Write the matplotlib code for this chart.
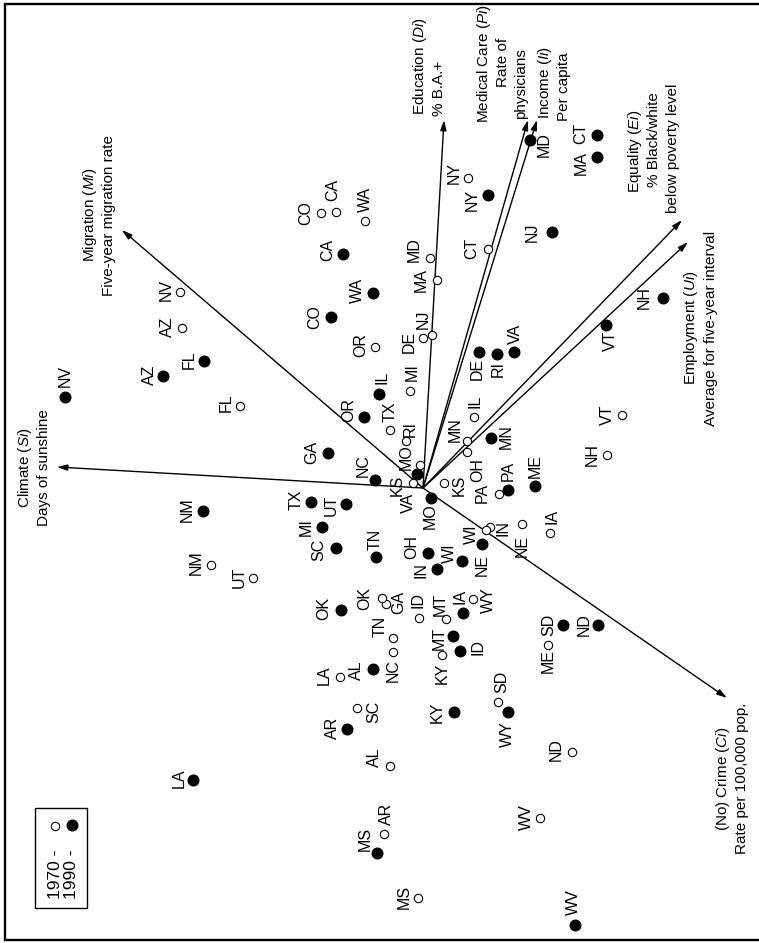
import matplotlib.pyplot as plt
from matplotlib.patches import Rectangle

plt.rcParams['font.family'] = ['Liberation Sans', 'DejaVu Sans']
plt.rcParams['mathtext.fontset'] = 'custom'
plt.rcParams['mathtext.rm'] = 'Liberation Sans'
plt.rcParams['mathtext.it'] = 'Liberation Sans:italic'

# state scores (page units, page is printed sideways)
states_70 = ['CO', 'CA', 'WA', 'NV', 'AZ', 'FL', 'OR', 'MD', 'MA', 'NJ', 'DE', 'NY',
             'CT', 'MI', 'TX', 'RI', 'MO', 'IL', 'MN', 'OH', 'KS', 'VA', 'PA', 'IA',
             'NE', 'IN', 'WI', 'VT', 'NH', 'WY', 'MT', 'ID', 'GA', 'OK', 'TN', 'NC',
             'KY', 'LA', 'SC', 'AL', 'AR', 'MS', 'SD', 'ME', 'ND', 'WV', 'NM', 'UT']
x_70 = [321, 336, 365, 180, 182, 240, 375, 430, 437, 432, 423, 468,
        488, 410, 390, 406, 420, 474, 467, 467, 444, 413, 499, 550,
        522, 490, 486, 622, 607, 473, 446, 419, 386, 382, 393, 393,
        442, 340, 357, 390, 384, 418, 498, 548, 572, 540, 211, 253]
y_70 = [213, 212, 221, 292, 328, 406, 347, 258, 280, 335, 338, 178,
        249, 391, 430, 441, 465, 417, 441, 452, 483, 483, 494, 533,
        524, 527, 530, 415, 455, 599, 619, 618, 604, 598, 638, 652,
        655, 677, 708, 766, 834, 898, 702, 645, 752, 818, 565, 578]

states_90 = ['NV', 'AZ', 'FL', 'CA', 'WA', 'CO', 'OR', 'IL', 'GA', 'NC', 'TX', 'UT',
             'MI', 'SC', 'TN', 'NM', 'OK', 'AL', 'AR', 'LA', 'MS', 'KY', 'MT', 'ID',
             'IA', 'IN', 'OH', 'WI', 'NE', 'MO', 'KS', 'WY', 'SD', 'ND', 'WV', 'ME',
             'PA', 'MN', 'DE', 'RI', 'VA', 'VT', 'NH', 'NJ', 'NY', 'MD', 'MA', 'CT']
x_90 = [65, 163, 204, 343, 373, 331, 364, 379, 328, 375, 311, 346,
        322, 336, 376, 203, 341, 373, 347, 193, 377, 454, 453, 460,
        463, 437, 428, 462, 482, 431, 417, 508, 563, 598, 575, 535,
        508, 491, 479, 497, 514, 606, 663, 552, 488, 530, 597, 597]
y_90 = [397, 376, 361, 254, 293, 317, 417, 394, 453, 480, 502, 504,
        527, 548, 557, 511, 610, 669, 729, 780, 853, 712, 636, 651,
        613, 569, 553, 561, 544, 498, 474, 712, 625, 625, 925, 486,
        490, 438, 352, 354, 352, 325, 298, 232, 195, 140, 157, 135]

# variable vectors
origin = (423, 488)
var_tip_x = [57, 122, 444, 528, 537, 682, 688, 727]
var_tip_y = [467, 230, 120, 120, 120, 220, 242, 698]

# where each state name sits relative to its point
off_70 = {'CO': (-15, 0), 'CA': (-3, -22), 'WA': (0, -22), 'NV': (-14, -2), 'AZ': (-15, -1),
          'FL': (-14, -3), 'OR': (-14, -2), 'MD': (-16, -8), 'MA': (-16, 0), 'NJ': (-9, -16),
          'DE': (-14, 4), 'NY': (-14, -5), 'CT': (-16, -1), 'MI': (2, -19), 'TX': (0, -18),
          'RI': (4, -12), 'MO': (-14, -8), 'IL': (1, -16), 'MN': (-12, -11), 'OH': (11, 18),
          'KS': (15, 2), 'VA': (-5, 20), 'PA': (-17, -1), 'IA': (2, -17), 'NE': (0, 22),
          'IN': (13, 1), 'WI': (-15, 4), 'VT': (-15, 0), 'NH': (-15, 0), 'WY': (15, 1),
          'MT': (-6, -15), 'ID': (-1, -18), 'GA': (13, -2), 'OK': (-17, 0), 'TN': (-13, -12),
          'NC': (0, 19), 'KY': (0, 18), 'LA': (-16, -2), 'SC': (17, 4), 'AL': (-16, -9),
          'AR': (2, -20), 'MS': (-14, -1), 'SD': (4, -20), 'ME': (0, 16), 'ND': (-16, -2),
          'WV': (-14, -1), 'NM': (-15, -2), 'UT': (-14, -1)}
off_90 = {'NV': (0, -21), 'AZ': (-14, -1), 'FL': (-15, -1), 'CA': (-15, -4), 'WA': (-16, -3),
          'CO': (-16, 0), 'OR': (-15, -7), 'IL': (3, -17), 'GA': (-16, -1), 'NC': (-12, -14),
          'TX': (-15, -2), 'UT': (-15, 1), 'MI': (-16, 0), 'SC': (-17, 2), 'TN': (-1, -18),
          'NM': (-16, -1), 'OK': (-17, -2), 'AL': (-17, 1), 'AR': (-15, -1), 'LA': (-14, -2),
          'MS': (-12, -14), 'KY': (-17, 0), 'MT': (-14, 2), 'ID': (18, -4), 'IA': (-3, -17),
          'IN': (-16, 1), 'OH': (-16, -6), 'WI': (-13, -8), 'NE': (0, 21), 'MO': (-1, 18),
          'KS': (-20, 11), 'WY': (-1, 22), 'SD': (-14, 0), 'ND': (-14, 0), 'WV': (-2, -23),
          'ME': (0, -20), 'PA': (0, -19), 'MN': (15, -1), 'DE': (-2, 17), 'RI': (1, 15),
          'VA': (1, -18), 'VT': (4, 16), 'NH': (-19, 0), 'NJ': (-20, 0), 'NY': (-16, 5),
          'MD': (14, 5), 'MA': (-16, 6), 'CT': (-16, -2)}

fig = plt.figure(figsize=(7.59, 9.43), dpi=100)
ax = fig.add_axes([0, 0, 1, 1])
ax.set_xlim(0, 759)
ax.set_ylim(943, 0)
ax.axis('off')

# frame (left, top, bottom; the right side is cut off in the scan)
ax.plot([758, 5, 5, 758], [4, 4, 940, 940], color='black', lw=1.7, zorder=1,
        solid_joinstyle='miter')

# vectors
for tx, ty in zip(var_tip_x, var_tip_y):
    ax.annotate('', xy=(tx, ty), xytext=origin,
                arrowprops=dict(arrowstyle='-|>,head_length=0.6,head_width=0.18',
                                lw=1.0, color='black', mutation_scale=10,
                                shrinkA=0, shrinkB=0), zorder=2)

# points
ax.scatter(x_90, y_90, s=58, c='black', zorder=3)
ax.scatter(x_70, y_70, s=36, facecolors='white', edgecolors='black', linewidths=0.8, zorder=4)

fs = 11.5
for st, x, y in zip(states_70, x_70, y_70):
    dx, dy = off_70[st]
    ax.text(x + dx, y + dy, st, rotation=90, ha='center', va='center', fontsize=fs, zorder=5)
for st, x, y in zip(states_90, x_90, y_90):
    dx, dy = off_90[st]
    ax.text(x + dx, y + dy, st, rotation=90, ha='center', va='center', fontsize=fs, zorder=5)

# vector labels
lab = dict(rotation=90, ha='center', va='center', fontsize=11)
ax.text(25, 468, 'Climate ($\\mathit{Si}$)', **lab)
ax.text(44, 468, 'Days of sunshine', **lab)
ax.text(90, 215, 'Migration ($\\mathit{Mi}$)', **lab)
ax.text(109, 215, 'Five-year migration rate', **lab)
ax.text(420, 66, 'Education ($\\mathit{Di}$)', **lab)
ax.text(439, 88, '% B.A.+', **lab)
ax.text(484, 64, 'Medical Care ($\\mathit{Pi}$)', **lab)
ax.text(503, 62, 'Rate of', **lab)
ax.text(521, 84, 'physicians', **lab)
ax.text(545, 82, 'Income ($\\mathit{Ii}$)', **lab)
ax.text(564, 87, 'Per capita', **lab)
ax.text(635, 151, 'Equality ($\\mathit{Ei}$)', **lab)
ax.text(654, 140, '% Black/white', **lab)
ax.text(673, 148, 'below poverty level', **lab)
ax.text(691, 328, 'Employment ($\\mathit{Ui}$)', **lab)
ax.text(711, 328, 'Average for five-year interval', **lab)
ax.text(723, 779, '(No) Crime ($\\mathit{Ci}$)', **lab)
ax.text(742, 778, 'Rate per 100,000 pop.', **lab)

# legend
ax.add_patch(Rectangle((35, 808), 52, 100, fill=False, lw=1.0, color='black', zorder=1))
ax.text(55, 874, '1970 -', rotation=90, ha='center', va='center', fontsize=12.5)
ax.text(72, 874, '1990 -', rotation=90, ha='center', va='center', fontsize=12.5)
ax.scatter([55], [826], s=36, facecolors='white', edgecolors='black', linewidths=0.8)
ax.scatter([72], [825], s=58, c='black')

fig.savefig('out.png', dpi=100)
